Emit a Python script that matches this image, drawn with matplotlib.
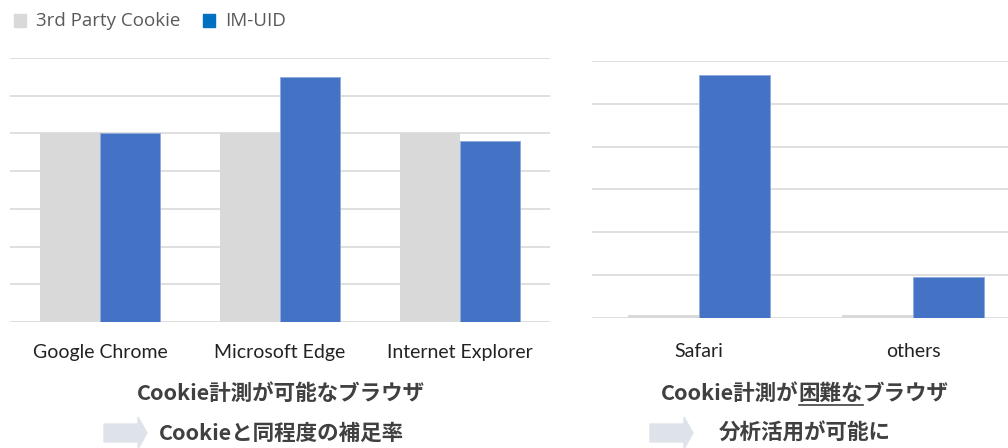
import matplotlib
matplotlib.use("Agg")
import matplotlib.pyplot as plt
import numpy as np
from matplotlib.patches import Polygon, Rectangle

plt.rcParams['font.family'] = ['Noto Sans CJK JP', 'DejaVu Sans']

# Data
left_categories = ["Google Chrome", "Microsoft Edge", "Internet Explorer"]
left_cookie = [5.0, 5.0, 5.0]
left_imuid = [5.0, 6.5, 4.8]

right_categories = ["Safari", "others"]
right_cookie = [0.08, 0.08]
right_imuid = [5.68, 0.96]

legend_labels = ["3rd Party Cookie", "IM-UID"]
left_title = "Cookie計測が可能なブラウザ"
left_sub = "Cookieと同程度の補足率"
right_title_a = "Cookie計測が"
right_title_b = "困難な"
right_title_c = "ブラウザ"
right_sub = "分析活用が可能に"

GRAY = "#D9D9D9"
BLUE = "#4472C4"
LEG_BLUE = "#0070C0"
GRID = "#D9D9D9"
TXT = "#404040"
TFS = 15.5

W, H = 1008, 448
fig = plt.figure(figsize=(W / 100, H / 100), dpi=100)

def ax_rect(x0, y0, x1, y1):
    return [x0 / W, 1 - y1 / H, (x1 - x0) / W, (y1 - y0) / H]

bw = 1 / 3

# Left chart
axL = fig.add_axes(ax_rect(10, 58, 550, 322))
x = np.arange(len(left_categories))
axL.bar(x - bw / 2, left_cookie, bw, color=GRAY, zorder=2)
axL.bar(x + bw / 2, left_imuid, bw, color=BLUE, edgecolor="#8FAADC", linewidth=0.6, zorder=2)
axL.set_xlim(-0.5, 2.5)
axL.set_ylim(0, 7)
axL.set_yticks(np.arange(0, 8, 1))
axL.yaxis.grid(True, color=GRID, linewidth=1.2, zorder=0)
axL.set_yticklabels([])
axL.tick_params(axis='y', length=0)
axL.set_xticks(x)
axL.set_xticklabels(left_categories, fontsize=14, color="#222222", family=['Lato', 'DejaVu Sans'])
axL.tick_params(axis='x', length=0, pad=16)
for s in axL.spines.values():
    s.set_visible(False)

# Right chart
axR = fig.add_axes(ax_rect(592, 61, 1008, 318))
x2 = np.arange(len(right_categories))
axR.bar(x2 - bw / 2, right_cookie, bw, color=GRAY, zorder=2)
axR.bar(x2 + bw / 2, right_imuid, bw, color=BLUE, edgecolor="#8FAADC", linewidth=0.6, zorder=2)
axR.set_xlim(-0.5, 1.5 - 12 / 214)
axR.set_ylim(0, 6)
axR.set_yticks(np.arange(0, 7, 1))
axR.yaxis.grid(True, color=GRID, linewidth=1.2, zorder=0)
axR.set_yticklabels([])
axR.tick_params(axis='y', length=0)
axR.set_xticks(x2)
axR.set_xticklabels(right_categories, fontsize=14, color="#222222", family=['Lato', 'DejaVu Sans'])
axR.tick_params(axis='x', length=0, pad=18)
for s in axR.spines.values():
    s.set_visible(False)

# Overlay axes in pixel coords for legend, titles, arrows
ov = fig.add_axes([0, 0, 1, 1])
ov.set_xlim(0, W)
ov.set_ylim(H, 0)
ov.axis('off')

# Legend
ov.add_patch(Rectangle((14, 14), 12, 13, color=GRAY))
ov.text(36, 21, legend_labels[0], fontsize=13.5, color="#595959", va='center', ha='left',
        family=['Open Sans', 'DejaVu Sans'])
ov.add_patch(Rectangle((203, 14), 12, 13, color=LEG_BLUE))
ov.text(225, 21, legend_labels[1], fontsize=13.5, color="#595959", va='center', ha='left',
        family=['Open Sans', 'DejaVu Sans'])

# Titles
ov.text(281, 393, left_title, fontsize=TFS, fontweight='bold', color=TXT, ha='center', va='center')
ov.text(281, 433, left_sub, fontsize=TFS, fontweight='bold', color=TXT, ha='center', va='center')

# Right title with underlined part
r = fig.canvas.get_renderer()
ta = ov.text(661, 393, right_title_a, fontsize=TFS, fontweight='bold', color=TXT, ha='left', va='center')
fig.canvas.draw()
bb = ta.get_window_extent(renderer=r)
inv = ov.transData.inverted()
xa_end = inv.transform((bb.x1, bb.y0))[0]
tb = ov.text(xa_end, 393, right_title_b, fontsize=TFS, fontweight='bold', color=TXT, ha='left', va='center')
fig.canvas.draw()
bb2 = tb.get_window_extent(renderer=r)
xb_end = inv.transform((bb2.x1, bb2.y0))[0]
ov.plot([xa_end, xb_end], [405, 405], color=TXT, linewidth=1.2)
ov.text(xb_end, 393, right_title_c, fontsize=TFS, fontweight='bold', color=TXT, ha='left', va='center')

ov.text(805, 433, right_sub, fontsize=TFS, fontweight='bold', color=TXT, ha='center', va='center')

# Arrows
def block_arrow(x0):
    pts = [(x0, 424), (x0 + 34, 424), (x0 + 34, 417), (x0 + 43, 433),
           (x0 + 34, 449), (x0 + 34, 442), (x0, 442)]
    ov.add_patch(Polygon(pts, closed=True, color="#DEE3E9"))

block_arrow(104)
block_arrow(650)

fig.savefig("out.png", dpi=100)
